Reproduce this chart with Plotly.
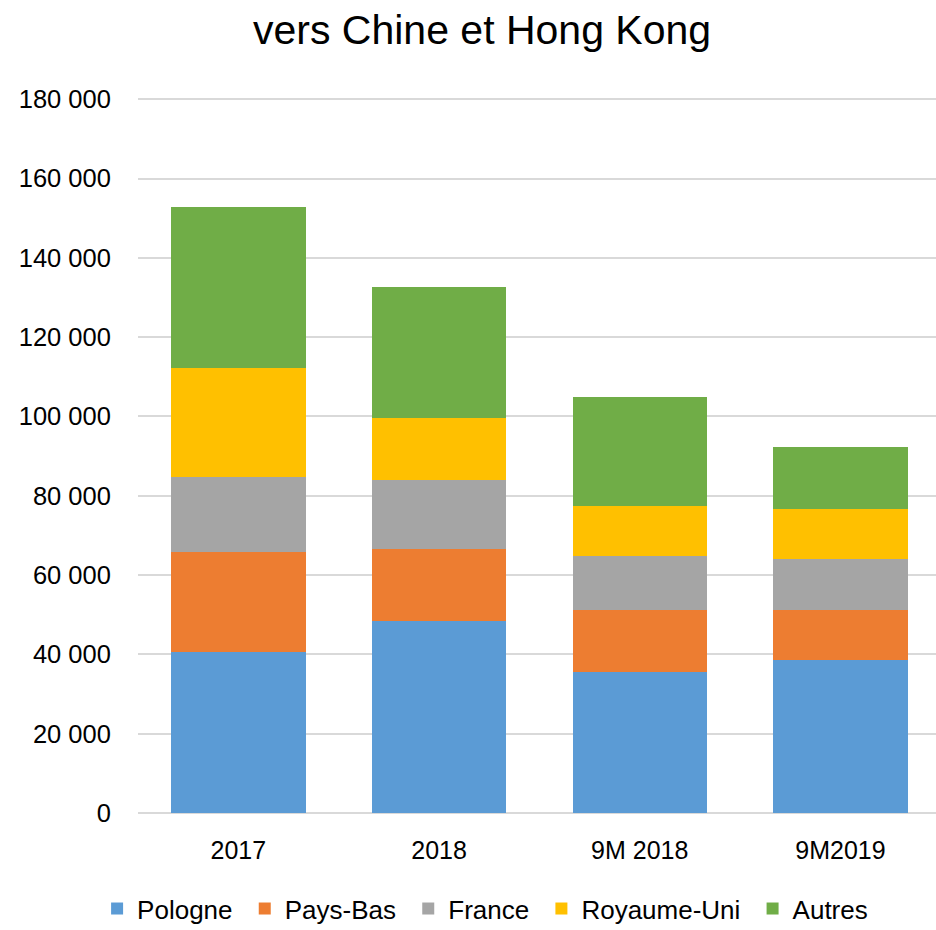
import plotly.graph_objects as go

# categories and series (stacked values)
categories = ["2017", "2018", "9M 2018", "9M2019"]
pologne = [40700, 48500, 35500, 38700]
pays_bas = [25200, 18150, 15800, 12600]
france = [18900, 17350, 13400, 12850]
royaume_uni = [27500, 15600, 12800, 12600]
autres = [40500, 33000, 27450, 15600]

tick_vals = [0, 20000, 40000, 60000, 80000, 100000, 120000, 140000, 160000, 180000]
tick_text = ["0", "20 000", "40 000", "60 000", "80 000", "100 000",
             "120 000", "140 000", "160 000", "180 000"]

series = [
    ("Pologne", pologne, "#5b9bd5"),
    ("Pays-Bas", pays_bas, "#ed7d31"),
    ("France", france, "#a5a5a5"),
    ("Royaume-Uni", royaume_uni, "#ffc000"),
    ("Autres", autres, "#70ad47"),
]

fig = go.Figure()
for name, vals, color in series:
    fig.add_trace(go.Bar(
        x=categories,
        y=vals,
        name=name + "\u00a0",  # a little extra room between legend entries
        marker=dict(color=color, line=dict(width=0)),
        width=0.67,
    ))

font_family = "Liberation Sans, Arial, sans-serif"

fig.update_layout(
    barmode="stack",
    width=936,
    height=930,
    paper_bgcolor="white",
    plot_bgcolor="white",
    margin=dict(l=138, r=0, t=98, b=117),
    title=dict(
        text="vers Chine et Hong Kong",
        x=0.515,
        xanchor="center",
        y=0.968,
        yanchor="middle",
        font=dict(family=font_family, size=41, color="#000000"),
    ),
    xaxis=dict(
        range=[-0.5, 3.476],
        showgrid=False,
        showline=False,
        ticks="outside",
        ticklen=15,
        tickcolor="rgba(0,0,0,0)",
        tickfont=dict(family=font_family, size=25, color="#000000"),
        automargin=False,
    ),
    yaxis=dict(
        range=[0, 180300],
        tickvals=tick_vals,
        ticktext=tick_text,
        showgrid=True,
        gridcolor="#d9d9d9",
        gridwidth=1.5,
        zeroline=True,
        zerolinecolor="#d9d9d9",
        zerolinewidth=1.5,
        showline=False,
        ticks="outside",
        ticklen=21,
        tickcolor="rgba(0,0,0,0)",
        tickfont=dict(family=font_family, size=25.5, color="#000000"),
        automargin=False,
    ),
    legend=dict(
        orientation="h",
        xref="container",
        x=0.522,
        xanchor="center",
        yref="container",
        y=0.023,
        yanchor="middle",
        font=dict(family=font_family, size=26, color="#000000"),
        traceorder="normal",
    ),
    showlegend=True,
)

# drop the default 8px body margin so the figure fills the window exactly
fig.write_html(
    "out.html",
    config={"displayModeBar": False},
    post_script="document.body.style.margin = '0';",
)
